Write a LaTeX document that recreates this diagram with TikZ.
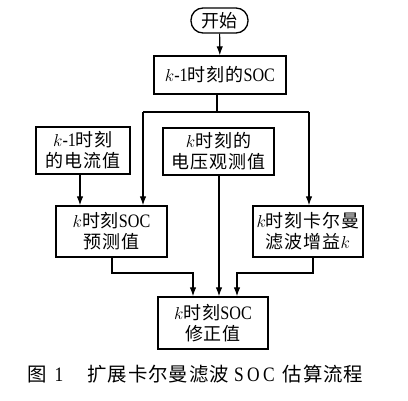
\documentclass[tikz,border=0pt]{standalone}
\usepackage{fontspec}
\setmainfont{Liberation Serif}[FakeStretch=0.85]
\usetikzlibrary{arrows.meta}
\newfontfamily\cjk[Scale=0.947,LetterSpace=5]{Noto Sans CJK SC}
\newcommand\zh[1]{{\cjk #1}}
\begin{document}
\begin{tikzpicture}[x=1pt,y=-1pt,
  box/.style={draw,line width=1.3pt,align=center,inner sep=0pt,
    font=\fontsize{19}{21}\selectfont},
  conn/.style={line width=1.2pt},
  arr/.style={conn,-{Latex[length=9pt,width=6.5pt]}}]
\useasboundingbox (0,0) rectangle (408,400);
\node[box,rounded corners=12pt,minimum width=57pt,minimum height=25pt] (start) at (219.5,20.5) {\zh{开始}};
\node[box,minimum width=132pt,minimum height=38pt] (soc1) at (220,75) {$k$-1\zh{时刻的}SOC};
\node[box,minimum width=94pt,minimum height=47pt] (cur) at (83,150.5) {$k$-1\zh{时刻}\\\zh{的电流值}};
\node[box,minimum width=111pt,minimum height=47pt] (volt) at (218.5,151.5) {$k$\zh{时刻的}\\\zh{电压观测值}};
\node[box,minimum width=111pt,minimum height=51pt] (pred) at (111.5,231.5) {$k$\zh{时刻}SOC\\\zh{预测值}};
\node[box,minimum width=110pt,minimum height=51pt] (gain) at (308,231.5) {$k$\zh{时刻卡尔曼}\\\zh{滤波增益}$k$};
\node[box,minimum width=110pt,minimum height=52pt] (corr) at (213,323) {$k$\zh{时刻}SOC\\\zh{修正值}};
\node[font=\fontsize{20.5}{24}\selectfont,anchor=west,inner sep=0pt] (cap) at (27,374) {\zh{图}\hspace{8pt}1\hspace{24pt}\zh{扩展卡尔曼滤波}\hspace{5pt}S\,O\,C\hspace{8pt}\zh{估算流程}};
\coordinate (j) at (217,112);
\coordinate (jl) at (143,112);
\coordinate (jr) at (309,112);
\coordinate (bl) at (112,273);
\coordinate (br) at (313,273);
\draw[arr] (start) -- (soc1);
\draw[conn] (soc1.south -| j) -- (j);
\draw[conn] (jl) -- (jr);
\draw[arr] (jl) -- (jl |- pred.north);
\draw[arr] (jr) -- (jr |- gain.north);
\draw[arr] (cur.south -| 80,0) -- (80,0 |- pred.north);
\draw[arr] (volt.south -| 219,0) -- (219,0 |- corr.north);
\draw[arr] (pred.south -| bl) -- (bl) -| (193,0 |- corr.north);
\draw[arr] (gain.south -| br) -- (br) -| (237,0 |- corr.north);
\end{tikzpicture}
\end{document}
